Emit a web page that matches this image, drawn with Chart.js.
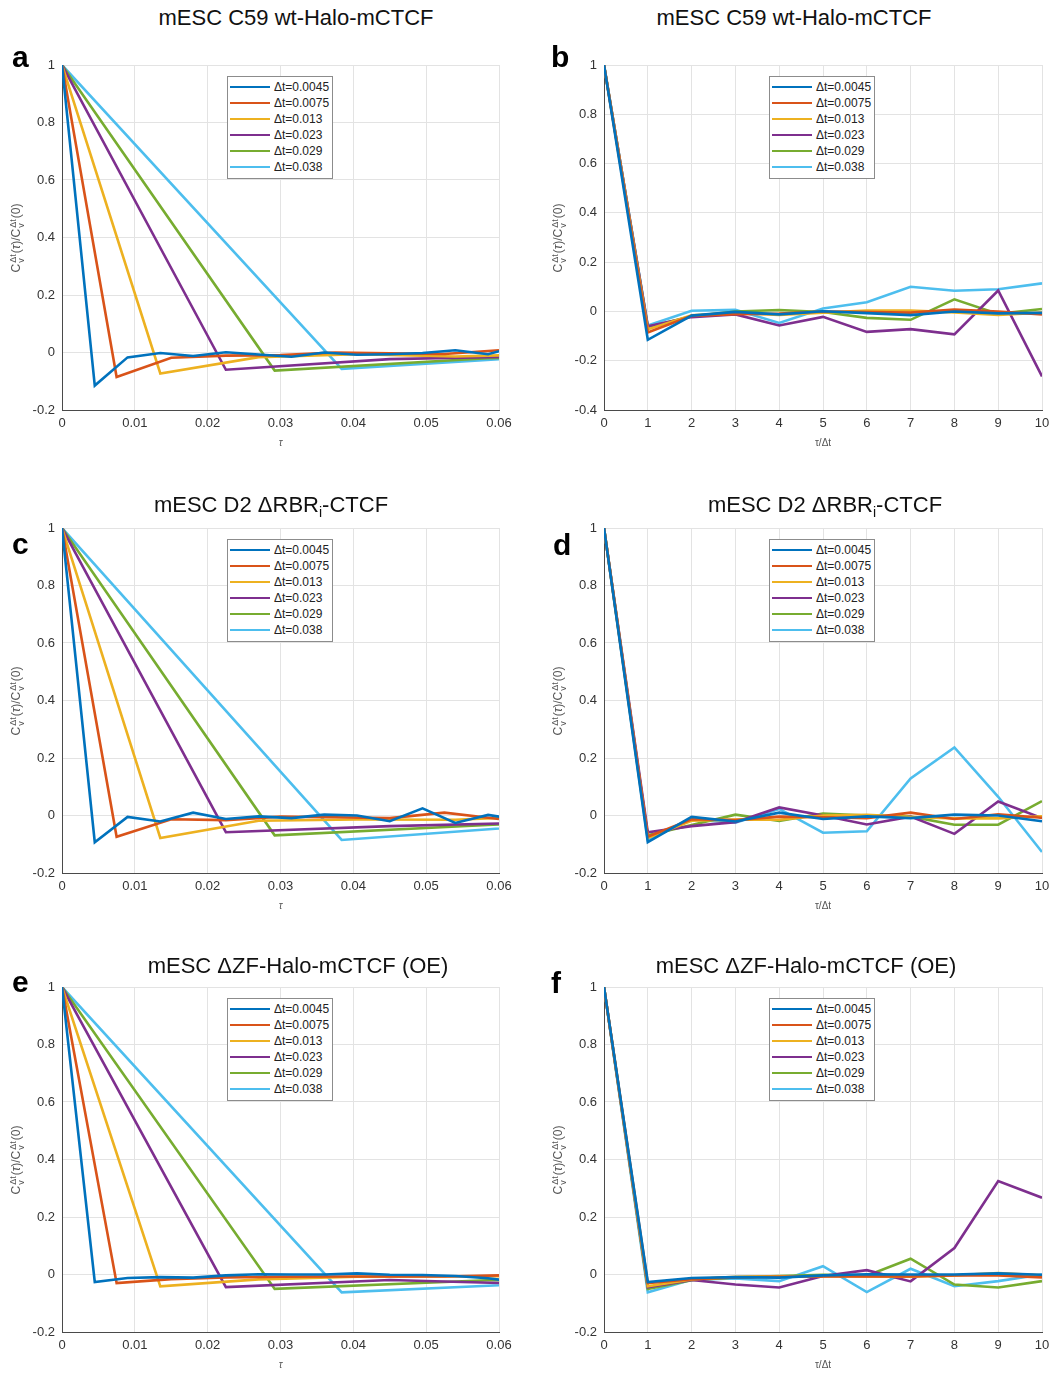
<!DOCTYPE html>
<html>
<head>
<meta charset="utf-8">
<script src="https://cdn.jsdelivr.net/npm/chart.js@4.4.1/dist/chart.umd.min.js"></script>
<style>
  body { margin: 0; background: #fff; font-family: "Liberation Sans", Arial, sans-serif; }
  #page { position: relative; width: 1049px; height: 1374px; overflow: hidden; background: #fff; }
  .panel { position: absolute; }
  .panel canvas { display: block; }
  .title { position: absolute; font-size: 22px; line-height: 24px; color: #111; white-space: nowrap; transform: translateX(-50%); }
  .title sub { font-size: 14px; line-height: 0; }
  .letter { position: absolute; font-size: 30px; font-weight: bold; line-height: 30px; color: #000; }
  .ylab { position: absolute; font-size: 12px; color: #555; white-space: nowrap; transform: translate(-50%, -50%) rotate(-90deg); }
  .ss { display: inline-flex; flex-direction: column; font-size: 9px; line-height: 8px; vertical-align: 4px; margin: 0 1px; }
  .legend { position: absolute; width: 104px; border: 1px solid #8c8c8c; background: #fff; padding: 2px 0 3px 0; z-index: 2; }
  .legend .row { height: 16px; display: flex; align-items: center; font-size: 12px; color: #222; }
  .legend .swatch { width: 40px; height: 2.5px; margin: 0 4px 0 2px; }
</style>
</head>
<body>
<div id="page"></div>
<script>
// Lag steps and legend labels
const DT_LABELS = ["Δt=0.0045", "Δt=0.0075", "Δt=0.013", "Δt=0.023", "Δt=0.029", "Δt=0.038"];
const DT_STEPS = [0.0045, 0.0075, 0.0135, 0.0225, 0.0292, 0.0384];
const COLORS = ["#0072BD", "#D95319", "#EDB120", "#7E2F8E", "#77AC30", "#4DBEEE"];

// Tick labels
const TAU_TICKS = [0, 0.01, 0.02, 0.03, 0.04, 0.05, 0.06];
const LAG_TICKS = [0, 1, 2, 3, 4, 5, 6, 7, 8, 9, 10];
const Y_TICKS = [-0.2, 0, 0.2, 0.4, 0.6, 0.8, 1];
const Y_TICKS_WIDE = [-0.4, -0.2, 0, 0.2, 0.4, 0.6, 0.8, 1];

// mESC C59 wt-Halo-mCTCF, values per lag k = 0, 1, 2, ...
const C59_0045 = [1, -0.115, -0.017, -0.002, -0.012, 0.001, -0.007, -0.015, 0.0, -0.008, -0.006, -0.002, 0.008, -0.006, 0.025];
const C59_0075 = [1, -0.085, -0.018, -0.011, -0.009, 0.0, -0.003, -0.005, 0.008, 0.0, -0.012];
const C59_013 = [1, -0.073, -0.016, -0.006, -0.014, -0.005, 0.004, 0.004, -0.004, -0.014, -0.005];
const C59_023 = [1, -0.06, -0.023, -0.012, -0.057, -0.022, -0.083, -0.072, -0.093, 0.085, -0.264];
const C59_029 = [1, -0.063, -0.02, 0.0, 0.006, -0.002, -0.026, -0.034, 0.049, -0.01, 0.01];
const C59_038 = [1, -0.057, 0.003, 0.007, -0.047, 0.012, 0.037, 0.1, 0.084, 0.09, 0.114];

// mESC D2 dRBRi-CTCF
const RBR_0045 = [1, -0.093, -0.005, -0.021, 0.01, -0.012, -0.003, -0.009, 0.003, 0.0, -0.02, 0.025, -0.026, 0.002, -0.016];
const RBR_0075 = [1, -0.074, -0.013, -0.016, -0.004, -0.006, -0.009, 0.01, -0.012, 0.004, -0.008];
const RBR_013 = [1, -0.078, -0.018, -0.014, -0.015, 0.0, 0.002, -0.005, -0.01, -0.01, -0.003];
const RBR_023 = [1, -0.058, -0.037, -0.023, 0.028, 0.0, -0.031, -0.004, -0.064, 0.049, -0.009];
const RBR_029 = [1, -0.069, -0.033, 0.003, -0.019, 0.007, 0.0, -0.004, -0.032, -0.032, 0.05];
const RBR_038 = [1, -0.085, -0.014, -0.025, 0.023, -0.06, -0.055, 0.129, 0.237, 0.065, -0.127];

// mESC dZF-Halo-mCTCF (OE)
const ZF_0045 = [1, -0.026, -0.012, -0.009, -0.011, -0.003, 0.001, 0.0, 0.0, 0.004, -0.001, -0.002, -0.005, -0.013, -0.028];
const ZF_0075 = [1, -0.03, -0.016, -0.01, -0.008, -0.007, -0.007, -0.007, -0.003, -0.003, -0.01];
const ZF_013 = [1, -0.041, -0.017, -0.008, -0.006, -0.006, -0.007, -0.008, -0.003, 0.005, -0.003];
const ZF_023 = [1, -0.044, -0.019, -0.035, -0.045, -0.005, 0.015, -0.024, 0.092, 0.325, 0.267];
const ZF_029 = [1, -0.05, -0.02, -0.01, -0.005, -0.001, -0.004, 0.055, -0.035, -0.045, -0.023];
const ZF_038 = [1, -0.062, -0.018, -0.014, -0.023, 0.029, -0.061, 0.02, -0.041, -0.023, 0.0];

const C59 = [C59_0045, C59_0075, C59_013, C59_023, C59_029, C59_038];
const RBR = [RBR_0045, RBR_0075, RBR_013, RBR_023, RBR_029, RBR_038];
const ZF = [ZF_0045, ZF_0075, ZF_013, ZF_023, ZF_029, ZF_038];

const TITLE_C59 = "mESC C59 wt-Halo-mCTCF";
const TITLE_RBR = "mESC D2 ΔRBR<sub>i</sub>-CTCF";
const TITLE_ZF = "mESC ΔZF-Halo-mCTCF (OE)";

// Panel layout: plot rect [x0, y0, x1, y1]
const PANELS = [
  { letter: "a", series: C59, mode: "tau", plot: [62, 65, 499, 410], title: TITLE_C59, titleX: 296, titleY: 6, letterX: 12, letterY: 42 },
  { letter: "b", series: C59, mode: "lag", plot: [604, 65, 1042, 410], title: TITLE_C59, titleX: 794, titleY: 6, letterX: 551, letterY: 42 },
  { letter: "c", series: RBR, mode: "tau", plot: [62, 528, 499, 873], title: TITLE_RBR, titleX: 271, titleY: 493, letterX: 12, letterY: 529 },
  { letter: "d", series: RBR, mode: "lag", plot: [604, 528, 1042, 873], title: TITLE_RBR, titleX: 825, titleY: 493, letterX: 553, letterY: 530 },
  { letter: "e", series: ZF, mode: "tau", plot: [62, 987, 499, 1332], title: TITLE_ZF, titleX: 298, titleY: 954, letterX: 12, letterY: 967 },
  { letter: "f", series: ZF, mode: "lag", plot: [604, 987, 1042, 1332], title: TITLE_ZF, titleX: 806, titleY: 954, letterX: 551, letterY: 968 },
];

const page = document.getElementById("page");

function fmt(v) {
  return String(Math.round(v * 100) / 100);
}

function addDiv(cls, html, style) {
  const d = document.createElement("div");
  d.className = cls;
  d.innerHTML = html;
  Object.assign(d.style, style);
  page.appendChild(d);
  return d;
}

function buildLegend(x, y) {
  const box = addDiv("legend", "", { left: x + "px", top: y + "px" });
  DT_LABELS.forEach((label, i) => {
    const row = document.createElement("div");
    row.className = "row";
    row.innerHTML = `<span class="swatch" style="background:${COLORS[i]}"></span>${label}`;
    box.appendChild(row);
  });
}

function makePanel(p) {
  const [x0, y0, x1, y1] = p.plot;
  const padTop = 18;
  const padRight = 22;
  const xAxisH = 39;
  const left = p.mode === "tau" ? 0 : 540;
  const width = x1 + padRight - left;
  const top = y0 - padTop;
  const height = y1 + xAxisH - top;

  const wrap = addDiv("panel", "", { left: left + "px", top: top + "px", width: width + "px", height: height + "px" });
  const canvas = document.createElement("canvas");
  canvas.width = width;
  canvas.height = height;
  wrap.appendChild(canvas);

  const yTicks = p.letter === "b" ? Y_TICKS_WIDE : Y_TICKS;
  const xTicks = p.mode === "tau" ? TAU_TICKS : LAG_TICKS;

  const datasets = p.series.map((vals, i) => ({
    label: DT_LABELS[i],
    data:
      p.mode === "tau"
        ? vals.map((v, k) => ({ x: k * DT_STEPS[i], y: v }))
        : vals.slice(0, 11).map((v, k) => ({ x: k, y: v })),
    borderColor: COLORS[i],
    backgroundColor: COLORS[i],
  }));

  new Chart(canvas.getContext("2d"), {
    type: "line",
    data: { datasets: datasets },
    options: {
      responsive: false,
      animation: false,
      layout: { padding: { top: padTop, right: padRight, left: 0, bottom: 0 } },
      elements: {
        point: { radius: 0 },
        line: { borderWidth: 2.6, tension: 0 },
      },
      plugins: {
        legend: { display: false },
        tooltip: { enabled: false },
      },
      scales: {
        x: {
          type: "linear",
          min: xTicks[0],
          max: xTicks[xTicks.length - 1],
          afterFit: (s) => { s.height = xAxisH; },
          afterBuildTicks: (s) => { s.ticks = xTicks.map((v) => ({ value: v })); },
          grid: { color: "#e3e3e3", drawTicks: false },
          border: { color: "#4a4a4a" },
          ticks: { color: "#333", font: { size: 13 }, padding: 6, autoSkip: false, maxRotation: 0, callback: fmt },
          title: {
            display: true,
            text: p.mode === "tau" ? "τ" : "τ/Δt",
            color: "#555",
            font: { size: 10, style: p.mode === "tau" ? "italic" : "normal" },
            padding: 0,
          },
        },
        y: {
          min: yTicks[0],
          max: 1,
          afterFit: (s) => { s.width = x0 - left; },
          afterBuildTicks: (s) => { s.ticks = yTicks.map((v) => ({ value: v })); },
          grid: { color: "#e3e3e3", drawTicks: false },
          border: { color: "#4a4a4a" },
          ticks: { color: "#333", font: { size: 13 }, padding: 7, autoSkip: false, callback: fmt },
        },
      },
    },
  });

  // Title, panel letter, y label, legend
  addDiv("title", p.title, { left: p.titleX + "px", top: p.titleY + "px" });
  addDiv("letter", p.letter, { left: p.letterX + "px", top: p.letterY + "px" });
  const sc = '<span class="ss"><span>Δt</span><span>v</span></span>';
  addDiv("ylab", `C${sc}(<i>τ</i>)/C${sc}(0)`, { left: (x0 - 45) + "px", top: (y0 + y1) / 2 + "px" });
  buildLegend(x0 + 165, y0 + 11);
}

document.addEventListener("DOMContentLoaded", () => {
  PANELS.forEach(makePanel);
});
</script>
</body>
</html>
